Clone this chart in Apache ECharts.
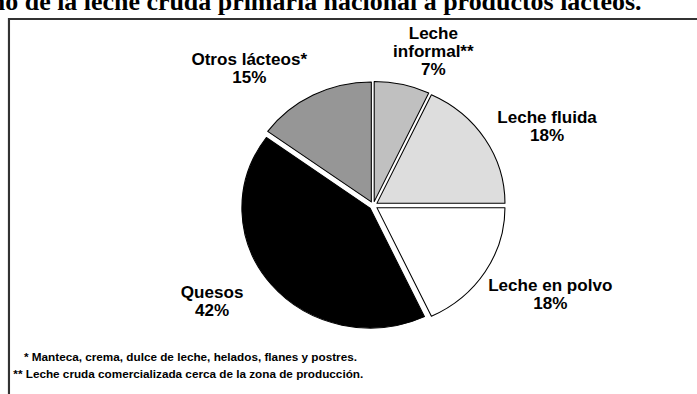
<!DOCTYPE html>
<html>
<head>
<meta charset="utf-8">
<script src="https://cdn.jsdelivr.net/npm/echarts@6/dist/echarts.min.js"></script>
<style>
  html, body { margin: 0; padding: 0; background: #fff; overflow: hidden; }
  /* The chart is laid out on a slightly narrower canvas and widened to the page width */
  #chart { width: 653px; height: 394px; transform: scaleX(1.0674); transform-origin: 0 0; }
</style>
</head>
<body>
<div id="chart"></div>
<script>
// Destination of raw milk, share by product (%)
const categories = ['Leche informal**', 'Leche fluida', 'Leche en polvo', 'Quesos', 'Otros lácteos*'];
const labelNames = ['Leche\ninformal**', 'Leche fluida', 'Leche en polvo', 'Quesos', 'Otros lácteos*'];
const shares = [7, 18, 18, 42, 15];
const sliceColors = ['#c0c0c0', '#dddddd', '#ffffff', '#000000', '#969696'];

const titleText = 'Destino de la leche cruda primaria nacional a productos lácteos.';
const footnotes = [
  '* Manteca, crema, dulce de leche, helados, flanes y postres.',
  '** Leche cruda comercializada cerca de la zona de producción.'
];

// Layout (chart coordinates, before the horizontal widening)
const CX = 349.7, CY = 205.5, R = 120, EXPLODE = 4;
const labelSpots = [[406, 52], [512.5, 127], [515.5, 295], [198.7, 302], [233.5, 69]];
const FONT = '"Liberation Sans", Arial, Helvetica, sans-serif';

const total = shares.reduce((a, b) => a + b, 0);
let acc = 0;
const series = shares.map((v, i) => {
  const midDeg = (acc + v / 2) / total * 360;
  acc += v;
  const rad = midDeg * Math.PI / 180;
  const center = [CX + EXPLODE * Math.sin(rad), CY - EXPLODE * Math.cos(rad)];
  return {
    type: 'pie',
    center: center,
    radius: R,
    startAngle: 90,
    clockwise: true,
    silent: true,
    animation: false,
    avoidLabelOverlap: false,
    labelLine: { show: false },
    label: {
      position: 'outside',
      formatter: p => labelNames[p.dataIndex] + '\n' + p.value + '%',
      fontFamily: FONT,
      fontWeight: 'bold',
      fontSize: 16,
      lineHeight: 18,
      color: '#000',
      align: 'center'
    },
    labelLayout: p => ({
      x: labelSpots[p.dataIndex][0],
      y: labelSpots[p.dataIndex][1],
      align: 'center',
      verticalAlign: 'middle'
    }),
    data: shares.map((s, j) => ({
      value: s,
      name: categories[j],
      itemStyle: j === i
        ? { color: sliceColors[j], borderColor: '#000', borderWidth: 1 }
        : { color: 'rgba(0,0,0,0)', borderWidth: 0 },
      label: { show: j === i }
    }))
  };
});

const chart = echarts.init(document.getElementById('chart'), null, { renderer: 'svg' });
chart.setOption({
  backgroundColor: '#fff',
  animation: false,
  graphic: [
    {
      type: 'text',
      x: 601, y: 14,
      style: {
        text: titleText,
        font: 'bold 24.3px "Liberation Serif", "Times New Roman", serif',
        fill: '#000',
        align: 'right',
        verticalAlign: 'bottom'
      }
    },
    {
      type: 'polyline',
      shape: { points: [[8.4, 400], [8.4, 19], [660, 19]] },
      style: { stroke: '#333', lineWidth: 2, fill: null }
    },
    {
      type: 'text',
      x: 22.5, y: 357,
      style: {
        text: footnotes[0],
        font: 'bold 11px ' + FONT,
        fill: '#000',
        verticalAlign: 'middle'
      }
    },
    {
      type: 'text',
      x: 12.5, y: 374,
      style: {
        text: footnotes[1],
        font: 'bold 11px ' + FONT,
        fill: '#000',
        verticalAlign: 'middle'
      }
    }
  ],
  series: series
});
</script>
</body>
</html>
